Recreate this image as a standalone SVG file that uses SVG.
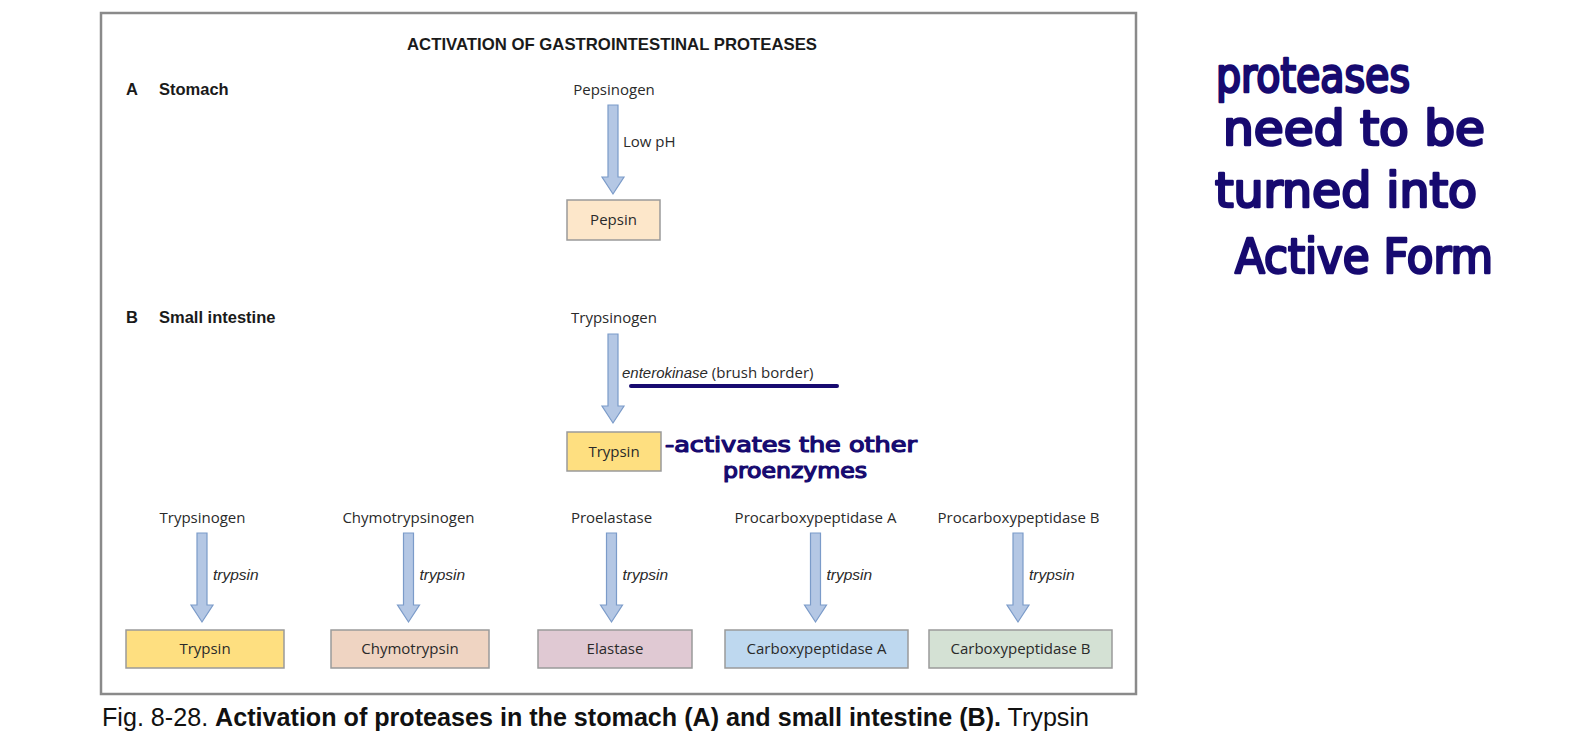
<svg xmlns="http://www.w3.org/2000/svg" width="1586" height="739" viewBox="0 0 1586 739">
<style>
.lbl{font-family:"Open Sans","Liberation Sans",sans-serif;font-size:15px;fill:#2a2a2a;text-anchor:middle}
.it{font-family:"Liberation Sans",Arial,sans-serif;font-style:italic;font-size:15.5px;fill:#2a2a2a}
.sec{font-family:"Liberation Sans",Arial,sans-serif;font-weight:bold;font-size:16.5px;fill:#1a1a1a}
.box{stroke:#9a9a9a;stroke-width:1.5}
.arrow{fill:#b4c7e4;stroke:#7b9bc9;stroke-width:1.2}
.hand{font-family:"DejaVu Sans Condensed","DejaVu Sans",sans-serif;font-weight:normal;fill:#170a70;stroke:#170a70;stroke-linejoin:round}
</style>
<defs>
<path id="arr" class="arrow" d="M-5,0 H5 V72 H11 L0,89 L-11,72 H-5 Z"/>
</defs>
<rect width="1586" height="739" fill="#ffffff"/>
<rect x="101" y="13" width="1035" height="681" fill="#ffffff" stroke="#8a8a8a" stroke-width="2.5"/>
<text x="612" y="50" font-family="Liberation Sans, Arial, sans-serif" font-weight="bold" font-size="16.5" fill="#1a1a1a" text-anchor="middle" textLength="410" lengthAdjust="spacingAndGlyphs">ACTIVATION OF GASTROINTESTINAL PROTEASES</text>
<text x="126" y="95" class="sec" font-size="18">A</text>
<text x="159" y="95" class="sec">Stomach</text>
<text x="126" y="323" class="sec" font-size="18">B</text>
<text x="159" y="323" class="sec">Small intestine</text>

<g id="connectors">
<use href="#arr" transform="translate(613,105)"/>
<use href="#arr" transform="translate(613,334)"/>
<use href="#arr" transform="translate(202,533)"/>
<use href="#arr" transform="translate(408.5,533)"/>
<use href="#arr" transform="translate(611.5,533)"/>
<use href="#arr" transform="translate(815.5,533)"/>
<use href="#arr" transform="translate(1018,533)"/>
<text x="623" y="147" class="lbl" style="text-anchor:start">Low pH</text>
<text x="622" y="378" style="font-family:'Liberation Sans',Arial,sans-serif;font-size:15px;fill:#2a2a2a"><tspan font-style="italic">enterokinase</tspan><tspan font-family="Open Sans, sans-serif"> (brush border)</tspan></text>
<text x="213" y="580" class="it">trypsin</text>
<text x="419.5" y="580" class="it">trypsin</text>
<text x="622.5" y="580" class="it">trypsin</text>
<text x="826.5" y="580" class="it">trypsin</text>
<text x="1029" y="580" class="it">trypsin</text>
</g>

<g id="pepsinogen"><text x="614" y="95" class="lbl">Pepsinogen</text></g>
<g id="pepsin"><rect x="567" y="200" width="93" height="40" class="box" fill="#fde7ca"/><text x="613.5" y="225" class="lbl">Pepsin</text></g>
<g id="trypsinogen-b"><text x="614" y="323" class="lbl">Trypsinogen</text></g>
<g id="trypsin-b"><rect x="567" y="432" width="94" height="39" class="box" fill="#fedf80"/><text x="614" y="457" class="lbl">Trypsin</text></g>

<g id="trypsinogen"><text x="202.5" y="523" class="lbl">Trypsinogen</text></g>
<g id="chymotrypsinogen"><text x="408.5" y="523" class="lbl">Chymotrypsinogen</text></g>
<g id="proelastase"><text x="611.5" y="523" class="lbl">Proelastase</text></g>
<g id="procarboxypeptidase-a"><text x="815.5" y="523" class="lbl">Procarboxypeptidase A</text></g>
<g id="procarboxypeptidase-b"><text x="1018.5" y="523" class="lbl">Procarboxypeptidase B</text></g>

<g id="trypsin"><rect x="126" y="630" width="158" height="38" class="box" fill="#fedf80"/><text x="205" y="654" class="lbl">Trypsin</text></g>
<g id="chymotrypsin"><rect x="331" y="630" width="158" height="38" class="box" fill="#efd4c2"/><text x="410" y="654" class="lbl">Chymotrypsin</text></g>
<g id="elastase"><rect x="538" y="630" width="154" height="38" class="box" fill="#e0c9d3"/><text x="615" y="654" class="lbl">Elastase</text></g>
<g id="carboxypeptidase-a"><rect x="725" y="630" width="183" height="38" class="box" fill="#bed8ef"/><text x="816.5" y="654" class="lbl">Carboxypeptidase A</text></g>
<g id="carboxypeptidase-b"><rect x="929" y="630" width="183" height="38" class="box" fill="#d4e1d4"/><text x="1020.5" y="654" class="lbl">Carboxypeptidase B</text></g>

<g id="annotations">
<line x1="631" y1="386" x2="837" y2="386" stroke="#170a70" stroke-width="4" stroke-linecap="round"/>
<text x="665" y="452" class="hand" font-size="22" stroke-width="1.2" textLength="252" lengthAdjust="spacingAndGlyphs">-activates the other</text>
<text x="723" y="478" class="hand" font-size="22" stroke-width="1.2" textLength="144" lengthAdjust="spacingAndGlyphs">proenzymes</text>
<text x="1216" y="92" class="hand" font-size="48" stroke-width="2.5" textLength="194" lengthAdjust="spacingAndGlyphs">proteases</text>
<text x="1223" y="145" class="hand" font-size="48" stroke-width="2.5" textLength="262" lengthAdjust="spacingAndGlyphs">need to be</text>
<text x="1215" y="207" class="hand" font-size="48" stroke-width="2.5" textLength="262" lengthAdjust="spacingAndGlyphs">turned into</text>
<text x="1235" y="273" class="hand" font-size="48" stroke-width="2.5" textLength="258" lengthAdjust="spacingAndGlyphs">Active Form</text>
</g>

<text x="102" y="726" font-family="Liberation Sans, Arial, sans-serif" font-size="25" fill="#111111" textLength="987" lengthAdjust="spacingAndGlyphs">Fig. 8-28. <tspan font-weight="bold">Activation of proteases in the stomach (A) and small intestine (B).</tspan> Trypsin</text>
</svg>
